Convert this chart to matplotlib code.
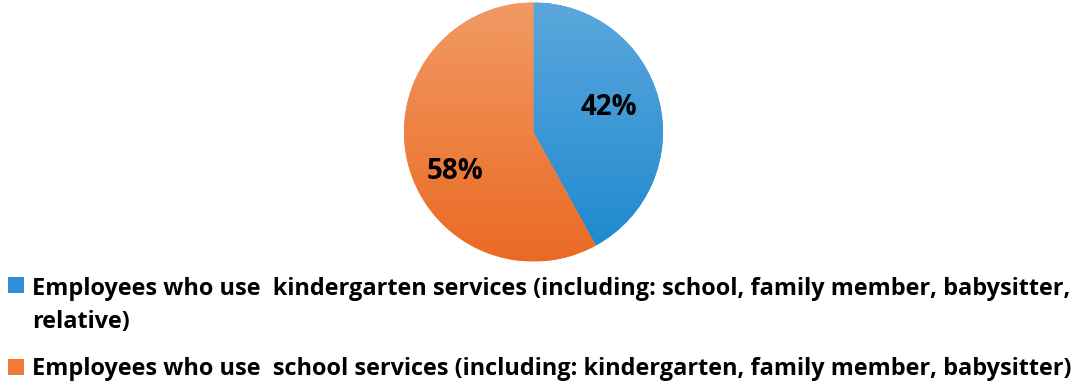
import numpy as np
import matplotlib.pyplot as plt
from matplotlib.colors import LinearSegmentedColormap
from matplotlib.patches import Rectangle

labels = [
    'Employees who use  kindergarten services (including: school, family member, babysitter,\nrelative)',
    'Employees who use  school services (including: kindergarten, family member, babysitter)',
]
shares = [42, 58]
colors = ['#2E8FD6', '#EE7B3A']
# light (top) and dark (bottom) shade for each slice
shades = [('#5CA7DD', '#1C88CE'), ('#F19A64', '#EA6A23')]

plt.rcParams['font.family'] = ['Open Sans', 'DejaVu Sans']
plt.rcParams['font.weight'] = 'bold'

W, H = 1078, 381
fig = plt.figure(figsize=(W / 100, H / 100), dpi=100)

cx, cy, r = 533.5, 132, 129.5
ax = fig.add_axes([(cx - r) / W, (H - cy - r) / H, 2 * r / W, 2 * r / H])
wedges, _, pcts = ax.pie(shares, colors=colors, startangle=90, counterclock=False,
                         autopct='%1.0f%%', pctdistance=0.62,
                         wedgeprops=dict(linewidth=0),
                         textprops=dict(fontsize=20, fontweight='bold', color='black'))
ax.set_xlim(-1, 1)
ax.set_ylim(-1, 1)
ax.set_aspect('equal')
ax.axis('off')

# nudge the percentage labels a little
for t, ang, dist in zip(pcts, [18, 207], [0.61, 0.68]):
    a = np.deg2rad(ang)
    t.set_position((dist * np.cos(a), dist * np.sin(a)))
    t.set_zorder(3)

# vertical gradient inside each slice
grad = np.linspace(1, 0, 256).reshape(-1, 1)
for w, (top, bottom) in zip(wedges, shades):
    cmap = LinearSegmentedColormap.from_list('g', [bottom, top])
    im = ax.imshow(grad, cmap=cmap, extent=[-1, 1, -1, 1], aspect='auto', zorder=1)
    im.set_clip_path(w)

# legend drawn by hand so the marker sits on the first line
marker_base = [293, 375]
text_base = [328, 375]  # baseline of the last line of each label
for lab, col, mb, tb in zip(labels, colors, marker_base, text_base):
    fig.patches.append(Rectangle((8 / W, (H - mb) / H), 16 / W, 16 / H,
                                 facecolor=col, edgecolor='none',
                                 transform=fig.transFigure))
    fig.text(32 / W, (H - tb) / H, lab, fontsize=16.9, fontweight='bold',
             ha='left', va='baseline', linespacing=1.52)

fig.savefig('out.png', dpi=100)
